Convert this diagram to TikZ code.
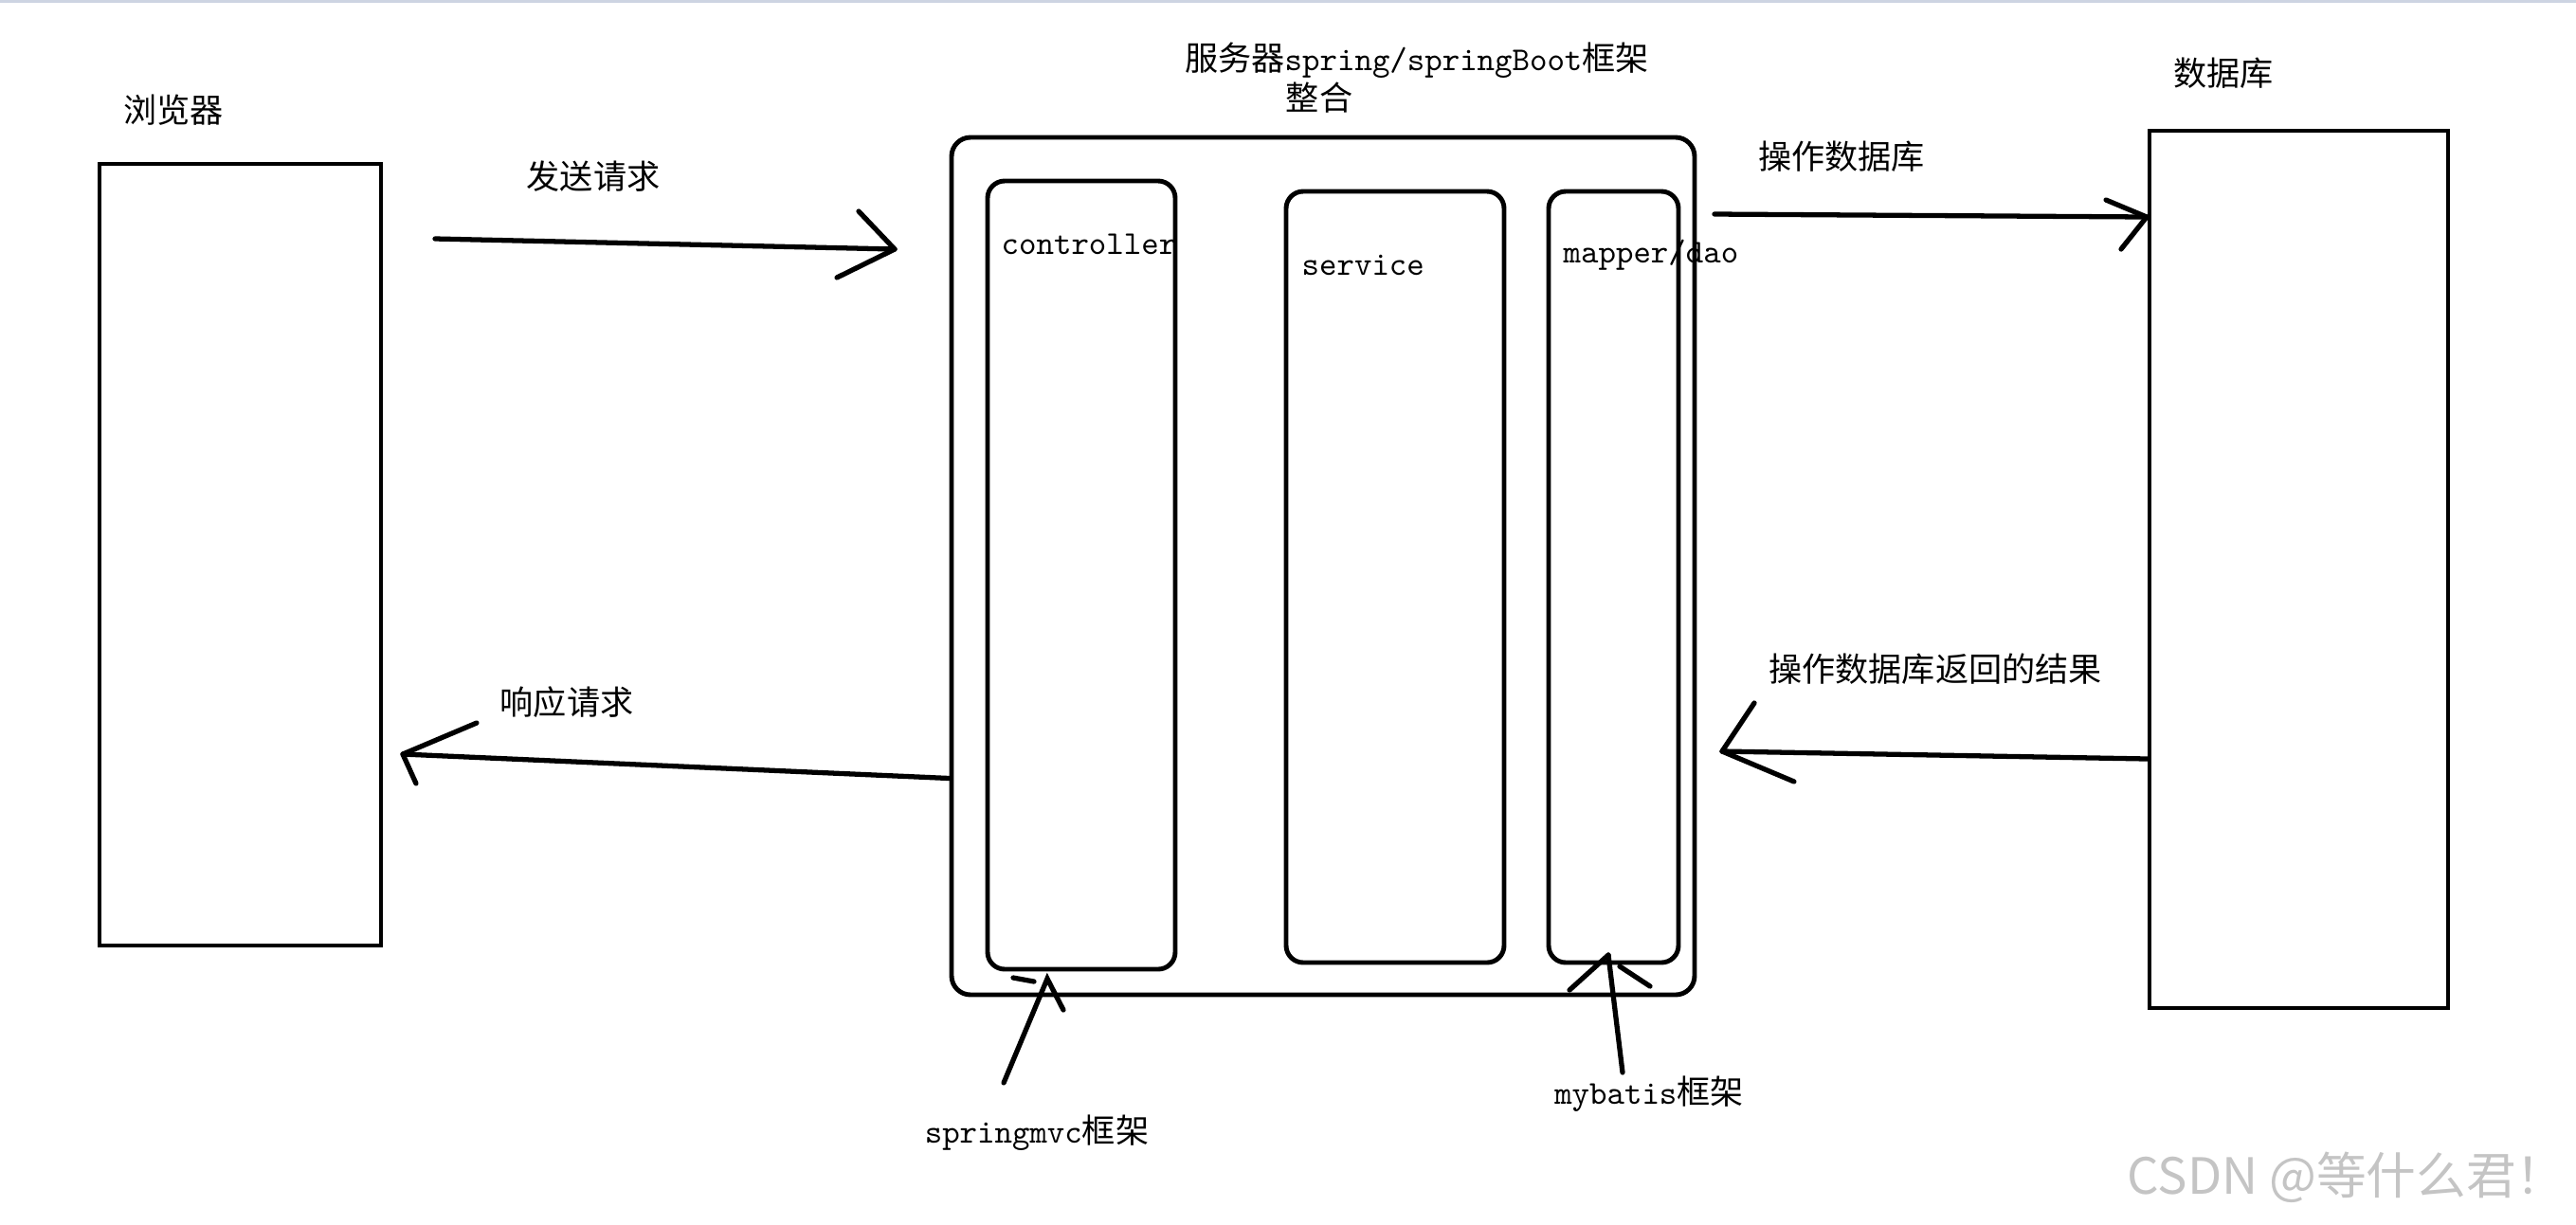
\documentclass[tikz,border=0pt]{standalone}
\usepackage{fontspec}
\usepackage{tikz}
\usetikzlibrary{calc}
\newfontfamily\cjk{Noto Sans CJK SC}
\definecolor{topbar}{HTML}{CDD4E2}
\definecolor{wmark}{HTML}{C4C4C4}
\tikzset{
  boxline/.style={draw, line width=1.4pt, inner sep=0pt},
  layer/.style={boxline, rounded corners=0.18cm},
  hand/.style={line width=1.5pt, line cap=round},
  lbl/.style={font=\cjk, inner sep=0pt},
  code/.style={font=\ttfamily, inner sep=0pt, anchor=base west},
}

\begin{document}
\begin{tikzpicture}
  \useasboundingbox (0,0) rectangle (27.18,-12.92);
  \fill[topbar] (0,0) rectangle (27.18,-0.03);

  % boxes
  \node[boxline, minimum width=2.97cm, minimum height=8.25cm] (browser) at (2.535,-5.855) {};
  \node[boxline, rounded corners=0.2cm, minimum width=7.84cm, minimum height=9.05cm] (server) at (13.96,-5.975) {};
  \node[layer, minimum width=1.98cm, minimum height=8.32cm] (ctrl) at (11.41,-6.07) {};
  \node[layer, minimum width=2.30cm, minimum height=8.14cm] (svc) at (14.72,-6.09) {};
  \node[layer, minimum width=1.37cm, minimum height=8.14cm] (mapper) at (17.025,-6.09) {};
  \node[boxline, minimum width=3.15cm, minimum height=9.26cm] (db) at (24.255,-6.01) {};

  % labels
  \node[lbl] (browserlbl) at (1.83,-1.16) {浏览器};
  \node[lbl] (dblbl) at (23.46,-0.77) {数据库};
  \node[inner sep=0pt] (title) at (14.95,-0.64) {{\cjk 服务器}\texttt{spring/springBoot}{\cjk 框架}};
  \node[lbl] (merge) at (13.92,-1.03) {整合};
  \node[code] (ctrllbl) at (10.56,-2.68) {controller};
  \node[code] (svclbl) at (13.73,-2.90) {service};
  \node[code] (mapperlbl) at (16.49,-2.77) {mapper/dao};
  \node[lbl] (sendlbl) at (6.26,-1.86) {发送请求};
  \node[lbl] (replylbl) at (5.98,-7.41) {响应请求};
  \node[lbl] (sqllbl) at (19.43,-1.65) {操作数据库};
  \node[lbl] (resultlbl) at (20.42,-7.06) {操作数据库返回的结果};
  \node[inner sep=0pt] (mvclbl) at (10.94,-11.96) {\texttt{springmvc}{\cjk 框架}};
  \node[inner sep=0pt] (batislbl) at (17.40,-11.55) {\texttt{mybatis}{\cjk 框架}};
  \node[font=\fontsize{15}{18}\selectfont\cjk, text=wmark, inner sep=0pt] (wm) at (24.76,-12.43) {CSDN @等什么君！};

  % send request
  \coordinate (req0) at (4.59,-2.52);
  \coordinate (req1) at (9.44,-2.63);
  \draw[hand] (req0) -- (req1);
  \draw[hand] (req1) -- ++(-0.38,0.40) (req1) -- ++(-0.61,-0.30);

  % reply
  \coordinate (rep1) at (4.25,-7.96);
  \draw[hand] ([yshift=-22.4mm]server.west) -- (rep1);
  \draw[hand] (rep1) -- ++(0.78,0.33) (rep1) -- ++(0.14,-0.31);

  % to database
  \coordinate (sql0) at (18.09,-2.26);
  \coordinate (sql1) at (22.65,-2.29);
  \draw[hand] (sql0) -- (sql1);
  \draw[hand] (sql1) -- ++(-0.43,0.18) (sql1) -- ++(-0.27,-0.34);

  % result back
  \coordinate (res1) at (18.17,-7.93);
  \draw[hand] ([yshift=-20mm]db.west) -- (res1);
  \draw[hand] (res1) -- ++(0.34,0.51) (res1) -- ++(0.76,-0.32);

  % framework pointers
  \coordinate (mvc0) at (10.59,-11.43);
  \coordinate (mvc1) at (11.05,-10.33);
  \draw[hand] (mvc0) -- (mvc1) -- ++(0.17,-0.33);
  \draw[hand] (mvc1) ++(-0.14,-0.03) -- ++(-0.22,0.04);
  \coordinate (bat0) at (17.12,-11.32);
  \coordinate (bat1) at (16.97,-10.08);
  \draw[hand] (bat0) -- (bat1);
  \draw[hand] (bat1) -- ++(-0.41,-0.37) (bat1) ++(0.12,-0.12) -- ++(0.32,-0.21);
\end{tikzpicture}
\end{document}
